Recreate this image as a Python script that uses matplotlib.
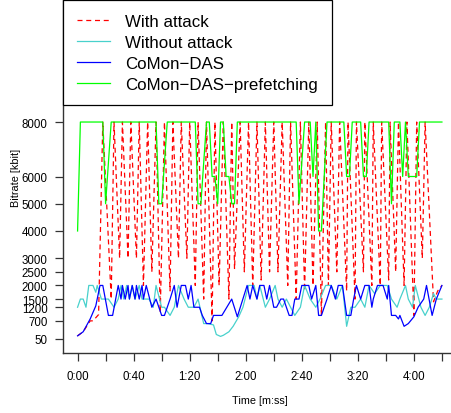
import matplotlib
matplotlib.use("Agg")
import matplotlib.pyplot as plt

plt.rcParams["font.family"] = ["Liberation Sans", "DejaVu Sans"]

# ---- data (time in s, bitrate in kbit) ----
attack_t = [0, 4, 9, 11, 15, 18, 24, 26, 30, 32, 36, 38, 42, 44, 47, 50, 53, 56,
            59, 62, 66, 68, 72, 74, 78, 80, 84, 86, 90, 92, 96, 98, 101, 104, 108, 110,
            112, 116, 119, 122, 125, 128, 131, 134, 137, 140, 143, 146, 150, 152, 156,
            159, 162, 165, 168, 171, 174, 177, 179, 181, 185, 187, 192, 193, 198, 199,
            204, 205, 210, 211, 216, 217, 222, 223, 227, 229, 233, 235, 240, 242, 246,
            248, 254, 257, 260]
attack_v = [150, 300, 700, 700, 930, 8000, 1500, 8000, 3000, 8000, 3000, 8000,
            3000, 8000, 2000, 8000, 2500, 8000, 1000, 8000, 1800, 8000, 3000, 8000, 3000,
            8000, 2000, 8000, 1500, 8000, 700, 8000, 2000, 8000, 1500, 8000, 2600, 8000,
            2500, 8000, 2000, 8000, 2200, 8000, 2500, 8000, 2500, 8000, 2000, 8000, 1500,
            8000, 1800, 8000, 2000, 8000, 900, 8000, 2000, 8000, 2500, 8000, 1800, 8000,
            1500, 8000, 2500, 8000, 2000, 8000, 2000, 8000, 2200, 8000, 2500, 8000, 2000,
            8000, 900, 8000, 3000, 8000, 1400, 1800, 2000]

noattack_t = [0, 2, 4, 6, 8, 11, 13, 14, 17, 22, 26, 29, 31, 33, 35, 37, 39, 41, 44,
              46, 49, 51, 54, 56, 60, 62, 66, 69, 72, 76, 79, 83, 86, 90, 93, 97, 99,
              102, 104, 108, 111, 115, 118, 122, 126, 128, 130, 134, 137, 141, 143, 146,
              149, 152, 155, 159, 162, 166, 170, 173, 177, 181, 185, 189, 192, 195, 198,
              202, 205, 208, 212, 216, 221, 224, 228, 230, 234, 236, 239, 241, 245, 248,
              251, 254, 256, 260]
noattack_v = [1200, 1500, 1500, 1200, 2000, 2000, 1750, 2000, 1500, 1500, 1200, 1500,
              2000, 1500, 2000, 1500, 2000, 1500, 2000, 1500, 1500, 1500, 1200, 2000,
              1200, 1200, 900, 1200, 2000, 1500, 1200, 1200, 1500, 600, 600, 550, 200,
              130, 170, 300, 500, 850, 1200, 2000, 2000, 1500, 2000, 1200, 1500, 2000,
              1500, 1200, 1500, 1200, 900, 1200, 2000, 1500, 1200, 1500, 2000, 2000,
              1500, 2000, 500, 1200, 1200, 1500, 1200, 2000, 1700, 2000, 2000, 1500,
              1200, 1500, 2000, 1500, 1200, 2000, 1200, 900, 1200, 1700, 1500, 1500]

das_t = [0, 4, 9, 13, 16, 18, 22, 25, 29, 31, 32, 34, 36, 37, 39, 41, 42, 44, 46,
         47, 49, 53, 56, 60, 62, 66, 69, 71, 74, 77, 79, 81, 83, 87, 89, 92, 95, 97,
         103, 110, 114, 121, 123, 125, 128, 130, 133, 135, 137, 140, 142, 145, 147,
         151, 153, 155, 158, 160, 165, 167, 170, 172, 174, 178, 181, 184, 186, 189,
         192, 195, 197, 199, 202, 205, 208, 210, 211, 214, 218, 221, 222, 224, 227,
         229, 230, 233, 236, 240, 243, 247, 249, 253, 256, 260]
das_v = [150, 300, 770, 1250, 2000, 2000, 900, 900, 2000, 1500, 2000, 1500, 2000,
         1500, 2000, 1500, 2000, 1500, 2000, 1500, 2000, 1200, 1500, 900, 900, 1500,
         2000, 1200, 2000, 2000, 1500, 2000, 1200, 1200, 900, 600, 600, 900, 900, 1500,
         850, 2000, 1500, 2000, 1500, 2000, 2000, 1500, 2000, 1200, 1200, 1500, 1500,
         900, 900, 1500, 1500, 2000, 2000, 1500, 2000, 900, 900, 1500, 2000, 1500,
         2000, 2000, 900, 900, 1500, 2000, 1500, 2000, 2000, 1200, 1500, 2000, 2000,
         1500, 2000, 900, 900, 770, 900, 500, 600, 850, 1200, 1500, 2000, 900, 1500,
         2000]

prefetch_t = [0, 2, 18, 20, 24, 56, 58, 60, 64, 84, 86, 88, 92, 94, 96, 98, 100, 102,
              104, 106, 108, 110, 112, 114, 156, 158, 162, 166, 168, 170, 172, 174, 178,
              190, 192, 194, 196, 202, 204, 206, 208, 222, 224, 226, 230, 232, 234, 236,
              242, 244, 260]
prefetch_v = [4000, 8000, 8000, 5000, 8000, 8000, 5000, 5000, 8000, 8000, 5000, 5000,
              8000, 8000, 6000, 6000, 5000, 8000, 8000, 6000, 6000, 5000, 5000, 8000,
              8000, 5000, 8000, 8000, 6000, 8000, 4000, 4000, 8000, 8000, 6000, 6000,
              8000, 8000, 6000, 6000, 8000, 8000, 5000, 8000, 8000, 6000, 8000, 6000,
              6000, 8000, 8000]

yticks = [50, 700, 1200, 1500, 2000, 2500, 3000, 4000, 5000, 6000, 8000]
xticks = list(range(0, 261, 20))
xlabels = ["0:00", "", "0:40", "", "1:20", "", "2:00", "", "2:40", "", "3:20", "", "4:00", ""]

fig = plt.figure(figsize=(4.51, 4.14), dpi=100)
W, H = 451, 414
left, right, top, bottom = 63, 456.5, 1, 354
ax = fig.add_axes([left / W, (H - bottom) / H, (right - left) / W, (bottom - top) / H])

lw = 0.9
ax.plot(attack_t, attack_v, color="#ff0000", lw=lw, dashes=(4, 3), label="With attack")
ax.plot(noattack_t, noattack_v, color="#48d1cc", lw=lw, label="Without attack")
ax.plot(das_t, das_v, color="#0000ff", lw=lw, label="CoMon\u2212DAS")
ax.plot(prefetch_t, prefetch_v, color="#00ff00", lw=lw, label="CoMon\u2212DAS\u2212prefetching")

ax.set_xlim(-10.4, 270.4)
ax.set_ylim(-480, 12480)
ax.set_xticks(xticks)
ax.set_xticklabels(xlabels)
ax.set_yticks(yticks)
ax.set_yticklabels([str(v) for v in yticks])
ax.tick_params(direction="out", length=6, width=0.9, color="#333333", labelsize=8.3)
ax.tick_params(axis="y", pad=5)
ax.tick_params(axis="x", pad=6)
for side in ("top", "right"):
    ax.spines[side].set_visible(False)
for side in ("left", "bottom"):
    ax.spines[side].set_color("#333333")
    ax.spines[side].set_linewidth(1.0)

fig.text(259.75 / W, 1 - 401 / H, "Time [m:ss]", fontsize=7.8, ha="center", va="center")
fig.text(16 / W, 1 - 177.5 / H, "Bitrate [kbit]", fontsize=7.8, rotation=90,
         ha="center", va="center")

leg = ax.legend(loc="upper left", bbox_to_anchor=(0, 1), borderaxespad=0, fontsize=12.2,
                frameon=True, fancybox=False, edgecolor="black", framealpha=1,
                handlelength=1.95, handletextpad=0.93, labelspacing=0.36, borderpad=0.8)
leg.get_frame().set_linewidth(0.9)

fig.savefig("out.png", dpi=100)
